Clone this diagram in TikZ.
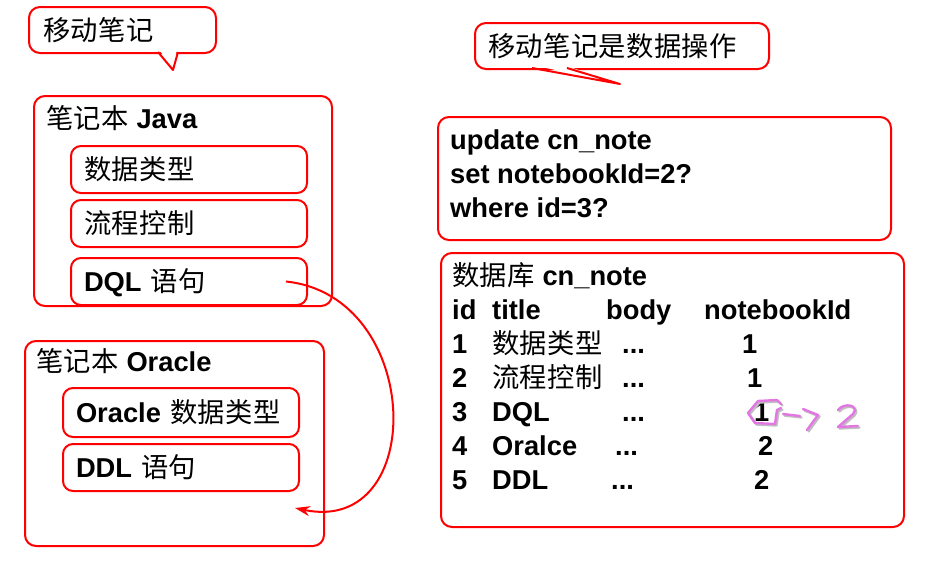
\documentclass[tikz,border=0pt]{standalone}
\usepackage{fontspec}
\setmainfont{Liberation Sans}
\newfontfamily\cjk{Noto Sans CJK SC}[LetterSpace=1.5]
\newcommand{\zh}[1]{{\cjk\mdseries #1}}
\usetikzlibrary{arrows.meta, positioning, calc}
\definecolor{boxred}{RGB}{255,0,0}
\definecolor{marker}{RGB}{226,118,226}
\tikzset{
    group_box/.style={rectangle, draw=boxred, line width=2pt, rounded corners=11pt, anchor=north west, inner sep=0pt},
    item_box/.style={rectangle, draw=boxred, line width=2pt, rounded corners=10pt, anchor=north west, text width=210pt, inner xsep=13pt, inner ysep=0pt, minimum height=47pt, text height=23pt, text depth=3pt, align=left, font=\fontsize{27.3}{34}\selectfont\bfseries},
    say_box/.style={rectangle, draw=boxred, line width=2pt, rounded corners=11pt, anchor=north west, inner xsep=14pt, inner ysep=0pt, minimum height=46pt, text height=23pt, text depth=3pt, align=left, font=\fontsize{27.3}{34}\selectfont\bfseries},
    txt/.style={anchor=base west, inner sep=0pt, font=\fontsize{27.3}{34}\selectfont\bfseries},
    arrow/.style={-{Stealth[length=15pt,width=10pt]}, line width=2pt, draw=boxred},
    pen/.style={draw=marker, line width=2.4pt, line cap=round, line join=round}
}

\begin{document}
\begin{tikzpicture}[x=1pt, y=-1pt, node distance=5pt]
    \useasboundingbox (0,0) rectangle (930,566);

    % speech bubbles
    \node (memo) [say_box, text width=159pt] at (28,6) {\zh{移动笔记}};
    \fill [white] (159,49.5) -- (173,69) -- (177,49.5) -- cycle;
    \draw [boxred, line width=2pt, line join=round] (158,52) -- (173,70) -- (178,52);

    \node (ops) [say_box, text width=268pt, inner xsep=13pt] at (474,22) {\zh{移动笔记是数据操作}};
    \fill [white] (534,65.5) -- (618,83) -- (565,65.5) -- cycle;
    \draw [boxred, line width=2pt, line join=round] (532,68) -- (620,84) -- (567,68);

    % notebook Java
    \node (java) [group_box, minimum width=298pt, minimum height=210pt] at (33,95) {};
    \node (javatitle) [txt] at (46,128) {\zh{笔记本} Java};
    \node (types) [item_box] at (70,145) {\zh{数据类型}};
    \node (flow) [item_box, below=of types] {\zh{流程控制}};
    \node (dql) [item_box, below=9pt of flow] {DQL \zh{语句}};

    % notebook Oracle
    \node (oracle) [group_box, minimum width=299pt, minimum height=205pt] at (24,340) {};
    \node (oracletitle) [txt] at (36,371) {\zh{笔记本} Oracle};
    \node (otypes) [item_box, minimum height=49pt] at (62,387) {Oracle \zh{数据类型}};
    \node (ddl) [item_box, below=of otypes] {DDL \zh{语句}};

    \coordinate (drop) at (295,508);
    \draw [arrow] ([xshift=-22pt]dql.east) .. controls (424,296) and (428,536) .. (drop);

    % update statement
    \node (sqlbox) [group_box, minimum width=453pt, minimum height=123pt] at (437,116) {};
    \node (sql1) [txt] at (450,149) {update cn\_note};
    \node (sql2) [txt] at (450,183) {set notebookId=2?};
    \node (sql3) [txt] at (450,217) {where id=3?};

    % table cn_note
    \node (dbbox) [group_box, minimum width=463pt, minimum height=274pt] at (440,252) {};
    \node (dbtitle) [txt] at (452,285) {\zh{数据库} cn\_note};
    \node (hid) [txt] at (452,319) {id};
    \node (htitle) [txt] at (492,319) {title};
    \node (hbody) [txt] at (606,319) {body};
    \node (hnb) [txt] at (704,319) {notebookId};
    \foreach \i/\t/\xb/\xn [evaluate=\i as \yb using 353+34*(\i-1)] in
        {1/{\zh{数据类型}}/622/742, 2/{\zh{流程控制}}/622/747, 3/DQL/622/754,
         4/Oralce/615/758, 5/DDL/611/754}{
        \node (id\i) [txt] at (452,\yb) {\i};
        \node (title\i) [txt] at (492,\yb) {\t};
        \node (body\i) [txt] at (\xb,\yb) {...};
        \node (nb\i) [txt] at (\xn,\yb) {\ifnum\i<4 1\else 2\fi};
    }

    % hand-written change 1 -> 2
    \begin{scope}[shift={(1.5,1.5)}]
        \draw [pen, draw=black!25] (781,404) -- (777,400) -- (758,401) -- (748,413) -- (755,423) -- (775,424) -- (777,410) -- (781,408);
        \draw [pen, draw=black!25] (783,414) -- (800,416);
        \draw [pen, draw=black!25] (803,409) -- (818,415) -- (807,430);
        \draw [pen, draw=black!25] (838,410) .. controls (844,402) and (860,405) .. (853,414) -- (838,427) -- (858,426);
    \end{scope}
    \draw [pen] (781,404) -- (777,400) -- (758,401) -- (748,413) -- (755,423) -- (775,424) -- (777,410) -- (781,408);
    \draw [pen] (783,414) -- (800,416);
    \draw [pen] (803,409) -- (818,415) -- (807,430);
    \draw [pen] (838,410) .. controls (844,402) and (860,405) .. (853,414) -- (838,427) -- (858,426);
\end{tikzpicture}
\end{document}
